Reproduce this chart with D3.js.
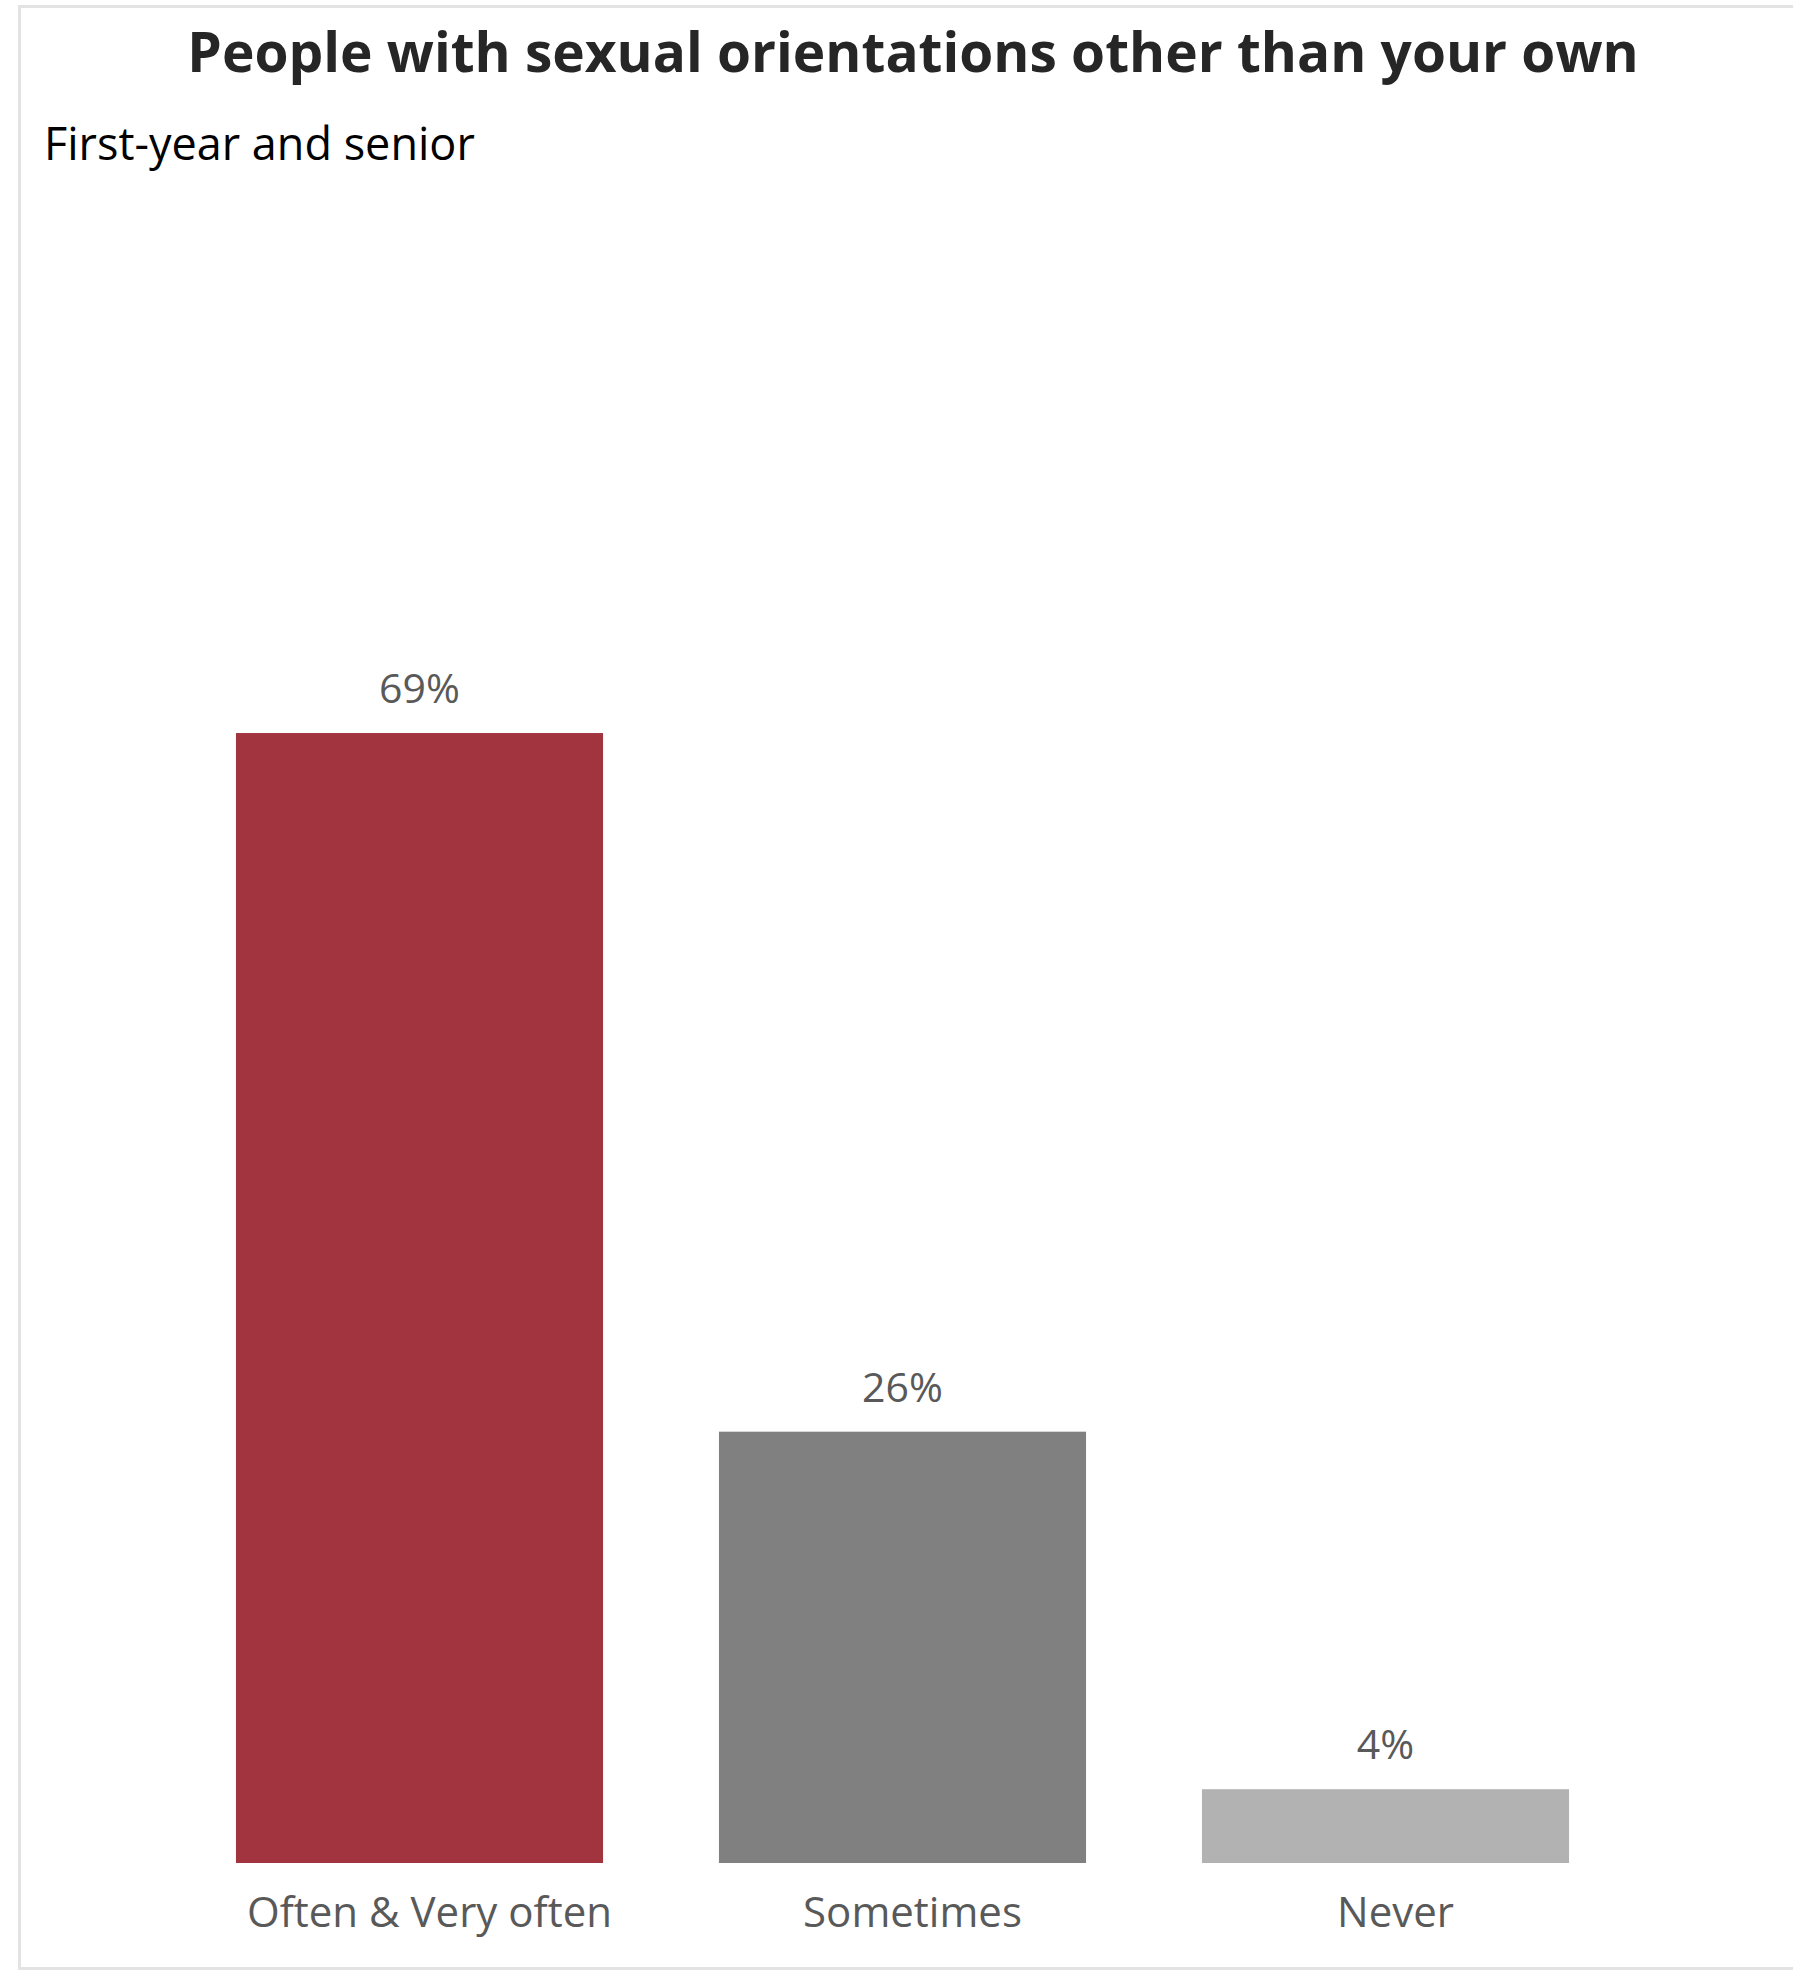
<!DOCTYPE html>
<html>
<head>
<meta charset="utf-8">
<script src="https://cdn.jsdelivr.net/npm/d3@7"></script>
<style>
  html, body { margin: 0; padding: 0; background: #fff; }
  svg { display: block; }
</style>
</head>
<body>
<div id="chart"></div>
<script>
const title = "People with sexual orientations other than your own";
const subtitle = "First-year and senior";
const categories = ["Often & Very often", "Sometimes", "Never"];
const values = [68.9, 26.3, 4.5];
const valueLabels = ["69%", "26%", "4%"];
const colors = ["#A2343F", "#808080", "#B2B2B2"];

const W = 1793, H = 1972;
const svg = d3.select("#chart").append("svg").attr("width", W).attr("height", H);

svg.append("rect")
  .attr("x", 19.5).attr("y", 6.5)
  .attr("width", W + 10).attr("height", 1962)
  .attr("fill", "#fff").attr("stroke", "#E3E3E3").attr("stroke-width", 3);

const font = "'Open Sans', 'Noto Sans', sans-serif";

const x = d3.scaleBand().domain(categories).range([178, 1627])
  .paddingInner(0.24).paddingOuter(0.12);
const y = d3.scaleLinear().domain([0, 80]).range([1863, 1863 - 80 * 16.4]);

svg.selectAll("rect.bar").data(categories).enter().append("rect")
  .attr("class", "bar")
  .attr("x", d => x(d))
  .attr("width", x.bandwidth())
  .attr("y", (d, i) => y(values[i]))
  .attr("height", (d, i) => y(0) - y(values[i]))
  .attr("fill", (d, i) => colors[i]);

svg.selectAll("text.val").data(categories).enter().append("text")
  .attr("class", "val")
  .attr("x", d => x(d) + x.bandwidth() / 2)
  .attr("y", (d, i) => y(values[i]) - 30)
  .attr("text-anchor", "middle")
  .attr("font-family", font).attr("font-size", 41)
  .attr("fill", "#595959")
  .text((d, i) => valueLabels[i]);

const xAxis = d3.axisBottom(x).tickSize(0).tickPadding(0);
const gx = svg.append("g").attr("transform", `translate(10, ${y(0)})`).call(xAxis);
gx.select(".domain").remove();
gx.selectAll("text")
  .attr("y", 64).attr("dy", null)
  .attr("font-family", font).attr("font-size", 42)
  .attr("fill", "#595959");

svg.append("text")
  .attr("x", 913).attr("y", 72)
  .attr("text-anchor", "middle")
  .attr("font-family", font).attr("font-weight", "bold").attr("font-size", 55)
  .attr("fill", "#262626")
  .text(title);

svg.append("text")
  .attr("x", 44).attr("y", 160)
  .attr("font-family", font).attr("font-size", 45)
  .attr("fill", "#000")
  .text(subtitle);
</script>
</body>
</html>
